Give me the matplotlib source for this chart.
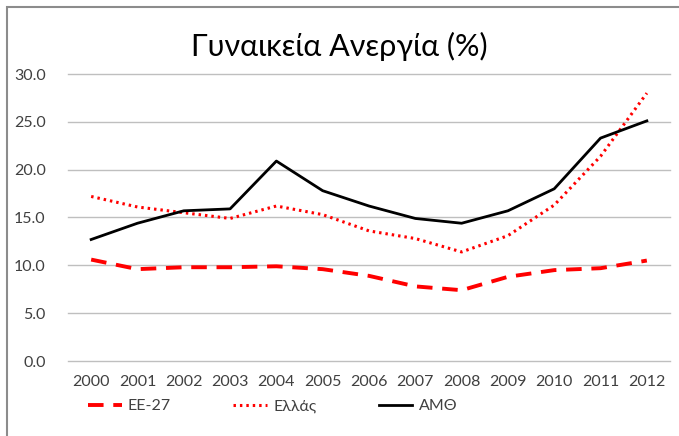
import matplotlib
matplotlib.use('Agg')
import matplotlib.pyplot as plt
from matplotlib.patches import Rectangle

years = ['2000', '2001', '2002', '2003', '2004', '2005', '2006',
         '2007', '2008', '2009', '2010', '2011', '2012']
ee27 = [10.6, 9.6, 9.8, 9.8, 9.9, 9.6, 8.9, 7.8, 7.4, 8.8, 9.5, 9.7, 10.5]
ellas = [17.2, 16.1, 15.5, 14.9, 16.2, 15.3, 13.6, 12.8, 11.4, 13.1, 16.3, 21.4, 28.0]
amth = [12.7, 14.4, 15.7, 15.9, 20.9, 17.8, 16.2, 14.9, 14.4, 15.7, 18.0, 23.3, 25.1]
yticks = [0, 5, 10, 15, 20, 25, 30]

plt.rcParams['font.family'] = ['Lato', 'DejaVu Sans']

fig = plt.figure(figsize=(6.79, 4.36), dpi=100)
ax = fig.add_axes([68 / 679, 1 - 361 / 436, 602 / 679, 287 / 436])

x = list(range(len(years)))
ax.plot(x, ee27, color='#ff0000', lw=2.8, dashes=(4, 2.5), label='ΕΕ-27')
ax.plot(x, ellas, color='#ff0000', lw=2.2, linestyle=(0, (0.8, 1.3)), label='Ελλάς')
ax.plot(x, amth, color='black', lw=2.0, label='ΑΜΘ')

ax.set_xlim(-0.5, 12.5)
ax.set_ylim(0, 30)
ax.set_xticks(x)
ax.set_xticklabels(years)
ax.set_yticks(yticks)
ax.set_yticklabels([f'{v:.1f}' for v in yticks])
ax.tick_params(length=0, labelsize=11.5, labelcolor='#404040', pad=10)
ax.tick_params(axis='y', pad=16)
ax.grid(axis='y', color='#bfbfbf', lw=1.0)
for gl in ax.get_ygridlines():
    gl.set_clip_on(False)
ax.set_axisbelow(True)
for s in ax.spines.values():
    s.set_visible(False)

fig.text(0.5, 1 - 46 / 436, 'Γυναικεία Ανεργία (%)', ha='center', va='center',
         fontsize=22, color='black')

fig.legend(loc='center left', bbox_to_anchor=(88 / 679, 1 - 406 / 436), ncol=3,
           frameon=False, fontsize=11.5, handlelength=2.1, columnspacing=3.9,
           handletextpad=0.4, labelcolor='#404040', borderaxespad=0,
           borderpad=0)

fig.patches.append(Rectangle((7 / 679, -0.1), 1.2, 1 - 7 / 436 + 0.1,
                             transform=fig.transFigure, fill=False,
                             edgecolor='#8c8c8c', lw=1.5))

fig.savefig('out.png', dpi=100)
